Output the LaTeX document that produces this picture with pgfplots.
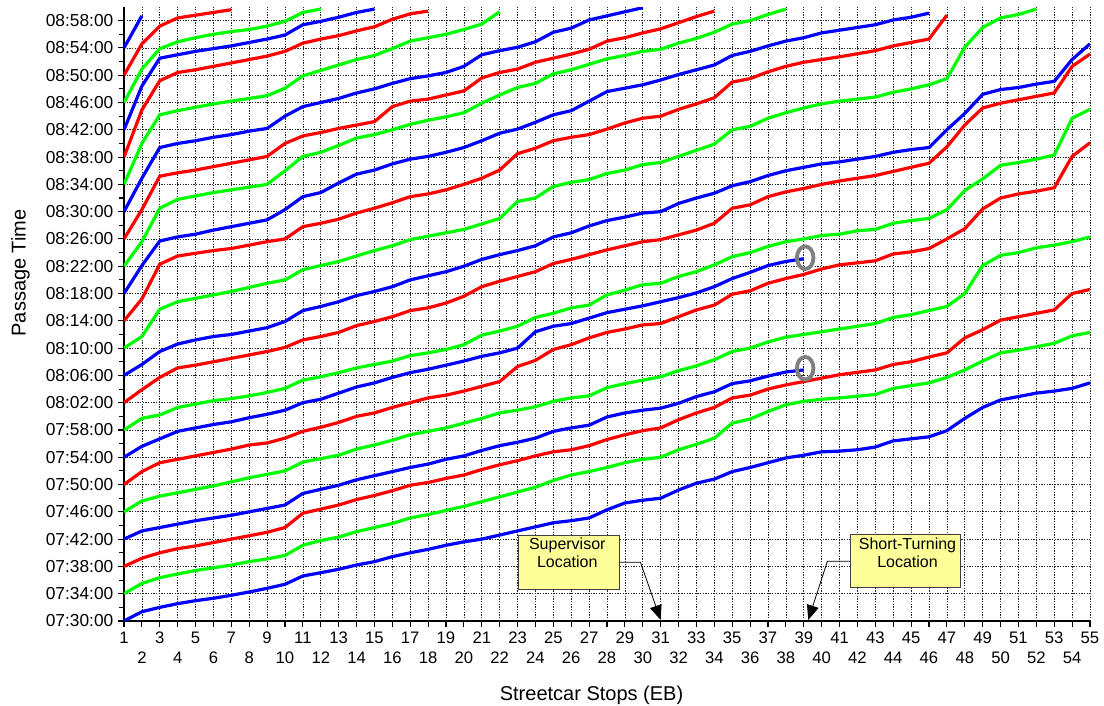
\documentclass[border=0pt]{standalone}
\usepackage{pgfplots}
\pgfplotsset{compat=1.18}
\usetikzlibrary{arrows.meta}
\usepackage{fontspec}
\setmainfont{Liberation Sans}
\definecolor{sblue}{RGB}{0,0,255}
\definecolor{sred}{RGB}{255,0,0}
\definecolor{sgreen}{RGB}{0,255,0}
\definecolor{boxyellow}{RGB}{255,255,153}
\begin{document}
\begin{tikzpicture}
\begin{axis}[name=ax, at={(0pt,0pt)}, anchor=south west,
  scale only axis, width=724.5pt, height=460.5pt,
  xmin=1, xmax=55, ymin=0, ymax=90,
  axis x line*=bottom, axis y line*=left,
  axis line style={-, line width=1.5pt, black},
  /pgf/number format/assume math mode=true,
  xtick={1,3,...,55},
  extra x ticks={2,4,...,54},
  extra x tick style={grid=major, tick label style={yshift=-15pt}},
  ytick={0,4,...,88},
  yticklabels={07:30:00,07:34:00,07:38:00,07:42:00,07:46:00,07:50:00,07:54:00,07:58:00,08:02:00,08:06:00,08:10:00,08:14:00,08:18:00,08:22:00,08:26:00,08:30:00,08:34:00,08:38:00,08:42:00,08:46:00,08:50:00,08:54:00,08:58:00},
  minor y tick num=1,
  grid=major,
  major grid style={black!85, line width=0.55pt, dash pattern=on 0.9pt off 1.1pt},
  tick align=outside,
  major tick length=4.5pt, minor tick length=3.5pt,
  tick style={black, line width=0.8pt},
  x tick label style={font=\fontsize{12.5}{14}\selectfont},
  y tick label style={font=\fontsize{13}{15}\selectfont},
  xlabel={Streetcar Stops (EB)}, ylabel={Passage Time},
  label style={font=\fontsize{15}{17}\selectfont},
  xlabel style={at={(axis description cs:0.484,0)}, anchor=north, yshift=-45pt},
  ylabel style={at={(axis description cs:-0.1072,0.567)}, anchor=center, rotate=0},
  every axis plot/.append style={line width=2.4pt, mark=none},
]
% 07:30 blue
\addplot[sblue] coordinates {(1,0)(2,1.36)(3,2.0)(4,2.54)(5,2.98)(6,3.33)(7,3.77)(8,4.25)(9,4.79)(10,5.38)(11,6.6)(12,7.08)(13,7.58)(14,8.21)(15,8.7)(16,9.43)(17,10.0)(18,10.5)(19,11.1)(20,11.6)(21,12.0)(22,12.6)(23,13.2)(24,13.8)(25,14.4)(26,14.7)(27,15.1)(28,16.3)(29,17.3)(30,17.7)(31,18.0)(32,19.2)(33,20.2)(34,20.8)(35,21.9)(36,22.5)(37,23.2)(38,23.9)(39,24.3)(40,24.8)(41,24.9)(42,25.1)(43,25.5)(44,26.4)(45,26.7)(46,27.0)(47,27.9)(48,29.7)(49,31.3)(50,32.4)(51,32.9)(52,33.4)(53,33.7)(54,34.1)(55,34.9)};
% 07:34 green
\addplot[sgreen] coordinates {(1,4)(2,5.5)(3,6.35)(4,6.9)(5,7.4)(6,7.8)(7,8.2)(8,8.7)(9,9.1)(10,9.6)(11,11.1)(12,11.8)(13,12.3)(14,13.1)(15,13.7)(16,14.3)(17,15.1)(18,15.6)(19,16.2)(20,16.8)(21,17.5)(22,18.2)(23,18.9)(24,19.6)(25,20.6)(26,21.4)(27,21.9)(28,22.5)(29,23.2)(30,23.7)(31,24.0)(32,25.1)(33,25.9)(34,26.8)(35,29.0)(36,29.6)(37,30.7)(38,31.7)(39,32.2)(40,32.5)(41,32.7)(43,33.2)(44,34.1)(45,34.5)(46,34.9)(47,35.7)(48,36.8)(49,38.1)(50,39.3)(51,39.7)(52,40.2)(53,40.7)(54,41.8)(55,42.3)};
% 07:38 red
\addplot[sred] coordinates {(1,8)(2,9.2)(3,10.0)(4,10.6)(5,11.0)(6,11.5)(7,12.0)(8,12.5)(9,13.0)(10,13.7)(11,15.8)(12,16.4)(13,17.0)(14,17.8)(15,18.4)(16,19.1)(17,19.9)(18,20.3)(19,20.9)(20,21.4)(21,22.2)(22,22.9)(23,23.5)(24,24.2)(25,24.8)(26,25.1)(27,25.7)(28,26.6)(29,27.3)(30,27.9)(31,28.3)(32,29.5)(33,30.5)(34,31.3)(35,32.7)(36,33.1)(37,34.0)(38,34.6)(39,35.1)(40,35.6)(41,36.1)(43,36.8)(44,37.6)(45,38.0)(46,38.7)(47,39.3)(48,41.5)(49,42.7)(50,44.1)(51,44.6)(52,45.1)(53,45.6)(54,48.0)(55,48.6)};
% 07:42 blue (short-turned)
\addplot[sblue] coordinates {(1,12)(2,13.2)(3,13.7)(4,14.2)(5,14.7)(6,15.1)(7,15.5)(8,16.0)(9,16.5)(10,17.0)(11,18.7)(12,19.3)(13,19.9)(14,20.7)(15,21.3)(16,21.9)(17,22.5)(18,23.0)(19,23.7)(20,24.2)(21,25.0)(22,25.7)(23,26.2)(24,26.8)(25,27.8)(26,28.3)(27,28.7)(28,29.9)(29,30.5)(30,30.9)(31,31.2)(32,31.9)(33,32.9)(34,33.6)(35,34.8)(36,35.2)(37,35.9)(38,36.5)(39,36.8)};
% 07:46 green
\addplot[sgreen] coordinates {(1,16)(2,17.6)(3,18.3)(4,18.8)(5,19.3)(6,19.8)(7,20.4)(8,21.0)(9,21.5)(10,22.0)(11,23.3)(12,23.8)(13,24.3)(14,25.2)(15,25.8)(16,26.5)(17,27.3)(18,27.8)(19,28.3)(20,29.0)(21,29.7)(22,30.5)(23,30.9)(24,31.4)(25,32.2)(26,32.7)(27,33.0)(28,34.2)(29,34.8)(30,35.3)(31,35.8)(32,36.7)(33,37.4)(34,38.3)(35,39.5)(36,40.0)(37,40.9)(38,41.6)(39,42.0)(40,42.4)(41,42.8)(43,43.6)(44,44.5)(45,44.9)(46,45.5)(47,46.1)(48,48.0)(49,52.1)(50,53.6)(51,54.0)(52,54.7)(53,55.1)(54,55.6)(55,56.3)};
% 07:50 red
\addplot[sred] coordinates {(1,20)(2,21.9)(3,23.2)(4,23.7)(5,24.2)(6,24.7)(7,25.2)(8,25.8)(9,26.1)(10,26.8)(11,27.8)(12,28.4)(13,29.1)(14,30.0)(15,30.5)(16,31.3)(17,32.0)(18,32.7)(19,33.1)(20,33.7)(21,34.4)(22,35.1)(23,37.3)(24,38.2)(25,39.8)(26,40.5)(27,41.5)(28,42.3)(29,42.8)(30,43.4)(31,43.6)(32,44.6)(33,45.6)(34,46.3)(35,47.9)(36,48.4)(37,49.5)(38,50.2)(39,50.8)(40,51.6)(41,52.2)(43,52.8)(44,53.8)(45,54.1)(46,54.6)(47,56.0)(48,57.5)(49,60.4)(50,62.0)(51,62.6)(52,63.0)(53,63.5)(54,68.1)(55,70.1)};
% 07:54 blue (short-turned)
\addplot[sblue] coordinates {(1,24)(2,25.6)(3,26.7)(4,27.8)(5,28.3)(6,28.8)(7,29.2)(8,29.8)(9,30.3)(10,30.9)(11,32.0)(12,32.5)(13,33.4)(14,34.3)(15,34.9)(16,35.7)(17,36.4)(18,36.9)(19,37.5)(20,38.1)(21,38.8)(22,39.3)(23,40.0)(24,42.4)(25,43.2)(26,43.6)(27,44.4)(28,45.2)(29,45.7)(30,46.2)(31,46.8)(32,47.4)(33,48.1)(34,49.0)(35,50.2)(36,51.1)(37,52.1)(38,52.7)(39,53.1)};
% 07:58 green
\addplot[sgreen] coordinates {(1,28)(2,29.7)(3,30.2)(4,31.3)(5,31.8)(6,32.3)(7,32.6)(8,33.0)(9,33.5)(10,34.1)(11,35.3)(12,35.8)(13,36.4)(14,37.1)(15,37.6)(16,38.1)(17,38.9)(18,39.3)(19,39.8)(20,40.5)(21,41.9)(22,42.5)(23,43.2)(24,44.5)(25,45.1)(26,45.9)(27,46.3)(28,47.8)(29,48.5)(30,49.3)(31,49.5)(32,50.5)(33,51.2)(34,52.2)(35,53.4)(36,54.0)(37,54.9)(38,55.6)(39,56.0)(40,56.5)(41,56.7)(42,57.2)(43,57.4)(44,58.3)(45,58.7)(46,59.0)(47,60.3)(48,63.1)(49,64.8)(50,66.8)(51,67.2)(52,67.7)(53,68.3)(54,73.7)(55,75.0)};
% 08:02 red
\addplot[sred] coordinates {(1,32)(2,33.9)(3,35.7)(4,37.1)(5,37.5)(6,38.0)(7,38.5)(8,39.0)(9,39.5)(10,40.1)(11,41.2)(12,41.7)(13,42.3)(14,43.3)(15,43.9)(16,44.6)(17,45.5)(18,45.9)(19,46.6)(20,47.6)(21,49.0)(22,49.8)(23,50.5)(24,51.2)(25,52.4)(26,53.0)(27,53.7)(28,54.4)(29,55.0)(30,55.6)(31,55.9)(32,56.6)(33,57.3)(34,58.3)(35,60.5)(36,61.0)(37,62.2)(38,62.9)(39,63.4)(40,64.0)(41,64.5)(43,65.3)(46,67.1)(47,69.5)(48,72.7)(49,75.2)(50,75.9)(51,76.4)(52,76.9)(53,77.4)(54,81.3)(55,83.1)};
% 08:06 blue
\addplot[sblue] coordinates {(1,36)(2,37.6)(3,39.5)(4,40.6)(5,41.2)(6,41.7)(7,42.0)(8,42.5)(9,43.0)(10,43.9)(11,45.5)(12,46.1)(13,46.8)(14,47.7)(15,48.3)(16,49.0)(17,50.0)(18,50.6)(19,51.2)(20,52.0)(21,53.0)(22,53.7)(23,54.3)(24,55.0)(25,56.3)(26,56.9)(27,57.9)(28,58.7)(29,59.2)(30,59.8)(31,60.0)(32,61.2)(33,62.0)(34,62.7)(35,63.8)(36,64.4)(37,65.3)(38,66.0)(39,66.5)(40,67.0)(41,67.3)(43,68.1)(44,68.7)(45,69.1)(46,69.4)(47,72.0)(48,74.4)(49,77.2)(50,77.9)(51,78.2)(52,78.7)(53,79.1)(54,82.3)(55,84.6)};
% 08:10 green
\addplot[sgreen] coordinates {(1,40)(2,41.7)(3,45.7)(4,46.8)(5,47.3)(6,47.8)(7,48.3)(8,48.9)(9,49.5)(10,50.0)(11,51.5)(12,52.1)(13,52.7)(14,53.5)(15,54.3)(16,55.0)(17,55.9)(18,56.4)(19,56.9)(20,57.4)(21,58.2)(22,59.0)(23,61.5)(24,62.0)(25,63.7)(26,64.3)(27,64.7)(28,65.6)(29,66.1)(30,66.9)(31,67.2)(32,68.1)(33,69.0)(34,69.9)(35,72.0)(36,72.5)(37,73.7)(38,74.5)(39,75.2)(40,75.8)(41,76.2)(43,76.8)(44,77.5)(45,78.0)(46,78.6)(47,79.5)(48,84.1)(49,87.0)(50,88.4)(51,88.9)(52,89.7)};
% 08:14 red
\addplot[sred] coordinates {(1,44)(2,47.2)(3,52.3)(4,53.5)(5,53.9)(6,54.3)(7,54.6)(8,55.1)(9,55.6)(10,56.0)(11,57.8)(12,58.3)(13,58.9)(14,59.8)(15,60.5)(16,61.3)(17,62.2)(18,62.6)(19,63.2)(20,64.0)(21,64.9)(22,66.1)(23,68.5)(24,69.3)(25,70.4)(26,70.9)(27,71.3)(28,72.1)(29,73.0)(30,73.7)(31,74.0)(32,75.0)(33,75.8)(34,76.7)(35,79.0)(36,79.5)(37,80.5)(38,81.3)(39,81.9)(40,82.3)(41,82.7)(43,83.6)(44,84.3)(45,84.8)(46,85.3)(47,88.8)};
% 08:18 blue
\addplot[sblue] coordinates {(1,48)(2,52.1)(3,55.7)(4,56.3)(5,56.7)(6,57.3)(7,57.8)(8,58.3)(9,58.8)(10,60.3)(11,62.2)(12,62.8)(13,64.2)(14,65.5)(15,66.1)(16,67.0)(17,67.7)(18,68.1)(19,68.7)(20,69.4)(21,70.4)(22,71.5)(23,72.1)(24,73.1)(25,74.2)(26,74.8)(27,76.2)(28,77.6)(29,78.1)(30,78.6)(31,79.3)(32,80.1)(33,80.8)(34,81.5)(35,82.9)(36,83.5)(37,84.3)(38,85.0)(39,85.5)(40,86.2)(41,86.6)(43,87.4)(44,88.1)(45,88.5)(46,89.1)};
% 08:22 green
\addplot[sgreen] coordinates {(1,52)(2,55.6)(3,60.5)(4,61.8)(5,62.3)(6,62.8)(7,63.2)(8,63.6)(9,64.0)(10,66.0)(11,68.1)(12,68.7)(13,69.7)(14,70.8)(15,71.3)(16,72.0)(17,72.8)(18,73.4)(19,73.9)(20,74.5)(21,75.9)(22,77.1)(23,78.2)(24,78.8)(25,80.2)(26,80.8)(27,81.6)(28,82.4)(29,82.9)(30,83.5)(31,83.8)(32,84.7)(33,85.4)(34,86.3)(35,87.5)(36,88.0)(37,88.9)(38,89.7)};
% 08:26 red
\addplot[sred] coordinates {(1,56)(2,60.3)(3,65.2)(4,65.7)(5,66.1)(6,66.6)(7,67.1)(8,67.6)(9,68.1)(10,70.0)(11,71.1)(12,71.6)(13,72.2)(14,72.7)(15,73.2)(16,75.4)(17,76.2)(18,76.5)(19,77.1)(20,77.7)(21,79.6)(22,80.4)(23,80.9)(24,81.9)(25,82.5)(26,83.1)(27,83.8)(28,85.0)(29,85.5)(30,86.2)(31,86.8)(32,87.7)(33,88.6)(34,89.4)};
% 08:30 blue
\addplot[sblue] coordinates {(1,60)(2,64.9)(3,69.4)(4,70.0)(5,70.4)(6,70.9)(7,71.3)(8,71.8)(9,72.2)(10,74.0)(11,75.4)(12,76.0)(13,76.6)(14,77.4)(15,78.0)(16,78.8)(17,79.5)(18,79.9)(19,80.4)(20,81.3)(21,83.0)(22,83.6)(23,84.1)(24,84.9)(25,86.3)(26,86.9)(27,88.1)(28,88.7)(29,89.3)(30,89.9)};
% 08:34 green
\addplot[sgreen] coordinates {(1,64)(2,70.0)(3,74.2)(4,74.8)(5,75.3)(6,75.8)(7,76.2)(8,76.6)(9,77.0)(10,78.1)(11,79.9)(12,80.7)(13,81.5)(14,82.3)(15,82.9)(16,83.9)(17,85.0)(18,85.5)(19,86.0)(20,86.7)(21,87.5)(22,89.3)};
% 08:38 red
\addplot[sred] coordinates {(1,68)(2,74.9)(3,79.2)(4,80.4)(5,80.8)(6,81.3)(7,81.8)(8,82.3)(9,82.8)(10,83.5)(11,84.7)(12,85.3)(13,85.8)(14,86.5)(15,87.1)(16,88.2)(17,89.0)(18,89.4)};
% 08:42 blue
\addplot[sblue] coordinates {(1,72)(2,78.4)(3,82.5)(4,83.0)(5,83.5)(6,83.9)(7,84.3)(8,84.8)(9,85.3)(10,85.9)(11,87.4)(12,87.9)(13,88.5)(14,89.2)(15,89.7)};
% 08:46 green
\addplot[sgreen] coordinates {(1,76)(2,80.9)(3,83.9)(4,84.9)(5,85.5)(6,86.0)(7,86.4)(8,86.7)(9,87.2)(10,87.9)(11,89.2)(12,89.7)};
% 08:50 red
\addplot[sred] coordinates {(1,80)(2,84.6)(3,87.2)(4,88.4)(5,88.8)(6,89.2)(7,89.6)};
% 08:54 blue
\addplot[sblue] coordinates {(1,84)(2,88.7)};
% short-turn rings
\draw[gray, line width=2.9pt] (axis cs:39.08,53.25) ellipse [x radius=6.2pt, y radius=8.5pt];
\draw[gray, line width=2.9pt] (axis cs:39.08,37.05) ellipse [x radius=6.2pt, y radius=8.5pt];
% annotation boxes
\draw[black!75, line width=0.8pt, fill=boxyellow] (axis cs:23.05,4.65) rectangle (axis cs:28.72,12.6);
\node[anchor=north, align=center, inner sep=2.2pt, font=\fontsize{12}{13.5}\selectfont] at (axis cs:25.78,12.6) {Supervisor\\Location};
\draw[black, line width=0.6pt, -{Triangle[length=11pt,width=9pt]}] (axis cs:28.72,8.6) -- (axis cs:29.87,8.6) -- (axis cs:31,0.15);
\draw[black!75, line width=0.8pt, fill=boxyellow] (axis cs:41.59,4.94) rectangle (axis cs:47.78,12.71);
\node[anchor=north, align=center, inner sep=2.2pt, font=\fontsize{12}{13.5}\selectfont] at (axis cs:44.8,12.71) {Short-Turning\\Location};
\draw[black, line width=0.6pt, -{Triangle[length=11pt,width=9pt]}] (axis cs:41.59,8.75) -- (axis cs:40.32,8.75) -- (axis cs:39.25,0.15);
\end{axis}
\pgfresetboundingbox
\path[use as bounding box] (-93pt,-63.75pt) rectangle (735pt,465.75pt);
\end{tikzpicture}
\end{document}
